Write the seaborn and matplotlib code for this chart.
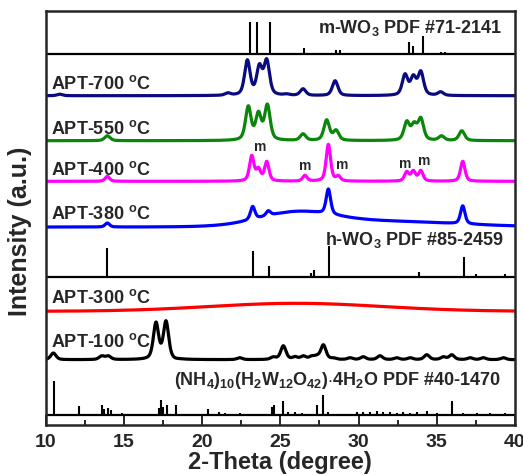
import numpy as np
import pandas as pd
import matplotlib
matplotlib.use('Agg')
import matplotlib.pyplot as plt
import seaborn as sns

# ---- reference stick patterns (2-theta, relative height) ----
m_wo3_pos = [23.06, 23.53, 24.33, 26.5, 28.56, 28.83, 33.25, 33.5, 34.15, 35.3, 35.5]
m_wo3_int = [32, 32, 32, 6, 4, 4, 12, 8, 18, 2, 2]

h_wo3_pos = [13.94, 23.22, 24.3, 26.95, 27.17, 28.12, 33.85, 36.76, 37.5, 39.37]
h_wo3_int = [29, 26, 11, 4, 7, 31.6, 5, 20.6, 3, 3]

apt_ref_pos = [10.55, 12.15, 13.58, 13.75, 13.96, 14.15, 14.86, 17.24, 17.35, 17.52, 17.73,
               18.33, 20.4, 21.1, 21.47, 22.42, 24.45, 24.62, 25.19, 25.51, 25.94, 26.37,
               27.33, 27.71, 28.07, 29.88, 30.31, 30.73, 31.16, 31.59, 32.01, 32.44, 32.87,
               33.3, 33.72, 34.36, 35.0, 35.96, 36.7, 37.56, 38.41, 39.37]
apt_ref_int = [34, 9, 10, 6, 7, 5, 2, 7, 15, 8, 10,
               10, 6, 3, 2, 2, 8, 10, 14, 3, 3, 2,
               10, 20, 3, 3, 3, 3, 4, 3, 3, 2, 3,
               2, 3, 4, 2, 14, 2, 2, 2, 2]

# ---- measured patterns: peak positions and heights (a.u.) ----
apt700_pos = [10.9, 21.64, 22.89, 23.66, 24.13, 25.4, 26.45, 28.5, 32.97, 33.5, 33.98, 35.25]
apt700_int = [1.5, 3, 36, 32, 37, 2, 7, 15, 22, 21, 25, 4]

apt550_pos = [13.94, 22.95, 23.6, 24.17, 26.45, 27.96, 28.56, 33.08, 33.55, 33.98, 35.3, 36.6]
apt550_int = [5, 35, 29.5, 36.7, 7, 21, 11, 20, 19, 23.4, 5, 10]

apt400_pos = [13.94, 23.17, 23.6, 24.13, 26.57, 28.07, 28.7, 33.08, 33.5, 33.98, 36.66]
apt400_int = [5, 26, 14, 20, 6, 37, 6, 10, 11, 11, 20]

apt380_pos = [13.94, 23.23, 24.23, 28.07, 36.66]
apt380_int = [4, 13, 5, 25, 18]
apt380_hump_pos = [26.0, 31.0]
apt380_hump_int = [12, 6]
apt380_hump_sd = [2.3, 5.0]

apt300_hump_pos = [26.0]
apt300_hump_int = [8]
apt300_hump_sd = [5.5]

apt100_pos = [10.49, 13.58, 14.0, 17.05, 17.69, 18.27, 22.4, 24.55, 25.19, 25.94, 26.47, 27.0,
              27.33, 27.75, 28.39, 29.46, 30.3, 31.37, 32.44, 33.3, 34.36, 35.42, 35.96,
              37.13, 37.98, 39.26]
apt100_int = [6.7, 4, 4, 37.7, 39, 2, 2, 3, 14, 3.3, 4, 4,
              5, 15, 2, 2, 3, 4, 2, 2, 5, 3, 5,
              2, 2, 2]

m_label_pos = [23.7, 26.58, 28.93, 32.98, 34.2]
m_label_y = [279, 260, 261, 262, 265]


# pseudo-Voigt peak shape
def pv(dx, g, eta=0.5):
    lor = 1.0 / (1.0 + (dx / g) ** 2)
    gau = np.exp(-np.log(2) * (dx / g) ** 2)
    return eta * lor + (1 - eta) * gau


# sum of peaks that passes through the read peak heights
def peak_profile(x, pos, inten, hwhm):
    pos = np.asarray(pos, float)
    inten = np.asarray(inten, float)
    m = pv(pos[:, None] - pos[None, :], hwhm)
    amp = np.linalg.solve(m, inten)
    return (amp[None, :] * pv(x[:, None] - pos[None, :], hwhm)).sum(axis=1)


# broad amorphous background
def hump(x, pos, inten, sd):
    out = np.zeros_like(x)
    for p, h, s in zip(pos, inten, sd):
        out += h * np.exp(-(x - p) ** 2 / (2 * s * s))
    return out


sns.set_style('ticks')
plt.rcParams['font.family'] = ['Liberation Sans', 'DejaVu Sans']
plt.rcParams['font.weight'] = 'bold'
plt.rcParams['mathtext.fontset'] = 'custom'
plt.rcParams['mathtext.rm'] = 'Liberation Sans:bold'
plt.rcParams['mathtext.it'] = 'Liberation Sans:bold'
plt.rcParams['mathtext.bf'] = 'Liberation Sans:bold'

fig = plt.figure(figsize=(5.23, 4.77), dpi=100)
ax = fig.add_axes([0.0874, 0.1069, 0.8973, 0.8679])

xs = np.linspace(10, 40, 3001)

# baselines of each stacked pattern
base = {'m': 371, '700': 329.3, '550': 284.3, '400': 243.7, '380': 198,
        'h': 147.7, '300': 113.7, '100': 65.3, 'ref': 10.5}

traces = [
    ('700', apt700_pos, apt700_int, 0.21, '#0b0b80', None),
    ('550', apt550_pos, apt550_int, 0.21, '#0a860a', None),
    ('400', apt400_pos, apt400_int, 0.17, '#ff00ff', None),
    ('380', apt380_pos, apt380_int, 0.17, '#0000ff', (apt380_hump_pos, apt380_hump_int, apt380_hump_sd)),
    ('100', apt100_pos, apt100_int, 0.2, 'black', None),
]
for key, pos, inten, w, col, bg in traces:
    y = base[key] + peak_profile(xs, pos, inten, w)
    if bg is not None:
        y = y + hump(xs, *bg)
    df = pd.DataFrame({'x': xs, 'y': y})
    sns.lineplot(data=df, x='x', y='y', ax=ax, color=col, lw=2.3, estimator=None)

y300 = base['300'] + hump(xs, apt300_hump_pos, apt300_hump_int, apt300_hump_sd)
sns.lineplot(x=xs, y=y300, ax=ax, color='#ff0000', lw=2.3, estimator=None)

# stick patterns
for key, pos, inten in [('m', m_wo3_pos, m_wo3_int), ('h', h_wo3_pos, h_wo3_int),
                        ('ref', apt_ref_pos, apt_ref_int)]:
    ax.axhline(base[key], color='black', lw=1.6)
    ax.vlines(pos, base[key], base[key] + np.asarray(inten), color='black', lw=1.5)

# labels
lab_kw = dict(fontsize=13, fontweight='bold', ha='left', va='baseline')
ax.text(10.34, 336.7, 'APT-700 $^{o}$C', **lab_kw)
ax.text(10.34, 292, 'APT-550 $^{o}$C', **lab_kw)
ax.text(10.34, 251, 'APT-400 $^{o}$C', **lab_kw)
ax.text(10.34, 206.7, 'APT-380 $^{o}$C', **lab_kw)
ax.text(10.34, 122.7, 'APT-300 $^{o}$C', **lab_kw)
ax.text(10.34, 79.3, 'APT-100 $^{o}$C', **lab_kw)

ref_kw = dict(fontsize=13, fontweight='bold', ha='right', va='baseline')
ax.text(39.18, 392.7, 'm-WO$_3$ PDF #71-2141', **ref_kw)
ax.text(39.25, 181, 'h-WO$_3$ PDF #85-2459', **ref_kw)
ax.text(39.05, 41, '(NH$_4$)$_{10}$(H$_2$W$_{12}$O$_{42}$)$\\cdot$4H$_2$O PDF #40-1470', **ref_kw)

for xm, ym in zip(m_label_pos, m_label_y):
    ax.text(xm, ym, 'm', fontsize=10, fontweight='bold', ha='center', va='center')

ax.set_xlim(10, 40)
ax.set_ylim(0, 414)
ax.set_xticks([10, 15, 20, 25, 30, 35, 40])
ax.set_xticks([12.5, 17.5, 22.5, 27.5, 32.5, 37.5], minor=True)
ax.set_yticks([])
ax.tick_params(axis='x', which='major', direction='in', length=7, width=1.4,
               labelsize=14, pad=6)
ax.tick_params(axis='x', which='minor', direction='in', length=3.5, width=1.4)
for lbl in ax.get_xticklabels():
    lbl.set_fontweight('bold')
for sp in ax.spines.values():
    sp.set_linewidth(1.8)
    sp.set_visible(True)

ax.set_xlabel('2-Theta (degree)', fontsize=17, fontweight='bold', labelpad=0)
ax.set_ylabel('Intensity (a.u.)', fontsize=18, fontweight='bold')
ax.yaxis.set_label_coords(-0.03, 0.47)

fig.savefig('out.png', dpi=100)
